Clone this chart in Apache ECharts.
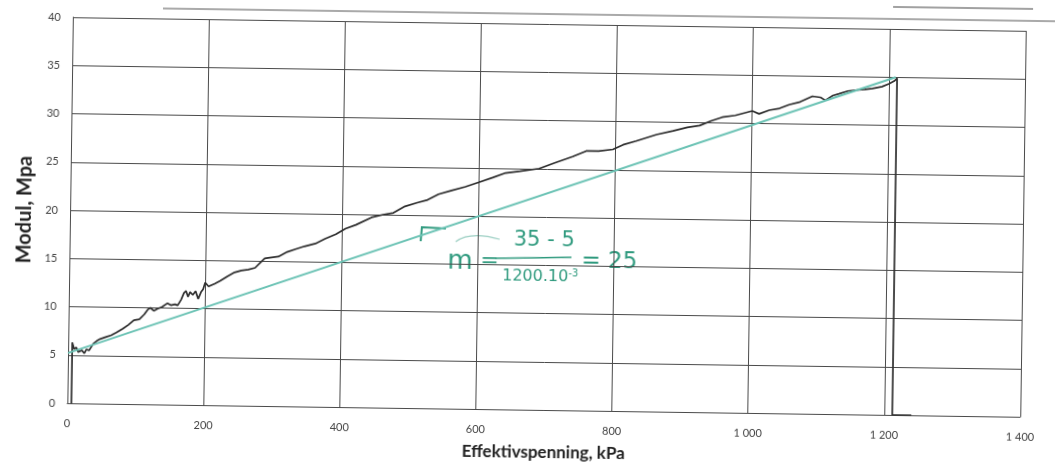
<!DOCTYPE html>
<html>
<head>
<meta charset="utf-8">
<script src="https://cdn.jsdelivr.net/npm/echarts@6/dist/echarts.min.js"></script>
<style>
  html, body { margin: 0; padding: 0; background: #fff; }
  #chart {
    width: 1055px;
    height: 466px;
    transform-origin: 547px 220px;
    transform: rotate(0.82deg);
  }
</style>
</head>
<body>
<div id="chart"></div>
<script>
// measured curve: effective stress (kPa) vs modulus (MPa)
const stressKpa = [6, 6, 9, 12, 15, 20, 24, 27, 31, 37, 42, 47, 55, 63, 71, 80, 88, 96, 104, 111,
  116, 120, 125, 130, 137, 145, 150, 156, 160, 165, 169, 172, 175, 178, 182, 186, 190, 194, 197, 200,
  205, 214, 222, 233, 243, 253, 263, 273, 280, 287, 297, 307, 320, 332, 345, 361, 375, 391, 405, 420,
  443, 460, 475, 492, 510, 525, 541, 560, 580, 600, 620, 639, 660, 688, 710, 737, 757, 775, 796, 811,
  830, 860, 884, 905, 923, 940, 956, 975, 1000, 1010, 1025, 1040, 1054, 1070, 1088, 1100, 1107, 1118, 1127, 1140,
  1151, 1165, 1176, 1190, 1200, 1208, 1212, 1212, 1240]
const modulMpa = [0, 6.3, 5.6, 5.8, 5.3, 5.5, 5.2, 5.6, 5.5, 6.2, 6.5, 6.7, 6.9, 7.1, 7.4, 7.8, 8.2, 8.7, 8.8, 9.3,
  9.8, 10.0, 9.7, 9.9, 10.1, 10.5, 10.3, 10.4, 10.3, 10.9, 11.6, 11.8, 11.2, 11.7, 11.4, 11.8, 11.0, 11.7, 12.0, 12.7,
  12.3, 12.6, 12.9, 13.4, 13.8, 14.0, 14.1, 14.3, 14.8, 15.3, 15.4, 15.5, 16.0, 16.3, 16.6, 16.9, 17.4, 17.9, 18.5, 18.9,
  19.7, 20.0, 20.2, 20.9, 21.3, 21.6, 22.2, 22.6, 23.0, 23.5, 24.0, 24.5, 24.7, 25.0, 25.6, 26.3, 26.9, 26.9, 27.1, 27.6,
  28.0, 28.7, 29.1, 29.5, 29.7, 30.2, 30.6, 30.8, 31.3, 31.0, 31.4, 31.6, 32.0, 32.3, 32.9, 32.8, 32.5, 33.0, 33.2, 33.5,
  33.6, 33.7, 33.8, 34.0, 34.3, 34.6, 34.9, 0, 0]

// hand-drawn fit line
const fitX = [0, 1210]
const fitY = [5.2, 35]

const xTicks = [0, 200, 400, 600, 800, 1000, 1200, 1400]

const chart = echarts.init(document.getElementById('chart'))

const fmtThousands = v => {
  const s = String(v)
  return s.length > 3 ? s.slice(0, -3) + ' ' + s.slice(-3) : s
}

const hand = '#2f9a7e'
const handFamily = '"DejaVu Sans"'

const option = {
  backgroundColor: '#fff',
  animation: false,
  grid: {
    left: 70,
    right: 32,
    top: 24,
    bottom: 49
  },
  xAxis: {
    type: 'value',
    min: 0,
    max: 1400,
    interval: 200,
    name: 'Effektivspenning, kPa',
    nameLocation: 'middle',
    nameGap: 34,
    nameTextStyle: { fontFamily: 'Lato', fontWeight: 'bold', fontSize: 17, color: '#222' },
    axisLine: { lineStyle: { color: '#4a4a4a', width: 1 } },
    axisTick: { show: false },
    axisLabel: {
      fontFamily: 'Lato', fontSize: 11, color: '#444', margin: 15,
      formatter: v => xTicks.includes(v) ? fmtThousands(v) : ''
    },
    splitLine: { lineStyle: { color: '#4a4a4a', width: 1 } }
  },
  yAxis: {
    type: 'value',
    min: 0,
    max: 40,
    interval: 5,
    name: 'Modul, Mpa',
    nameLocation: 'middle',
    nameRotate: 90,
    nameGap: 29,
    nameTextStyle: { fontFamily: 'Lato', fontWeight: 'bold', fontSize: 20, color: '#222' },
    axisLine: { show: true, lineStyle: { color: '#4a4a4a', width: 1 } },
    axisTick: { show: false },
    axisLabel: { fontFamily: 'Lato', fontSize: 11, color: '#444', margin: 12 },
    splitLine: { lineStyle: { color: '#4a4a4a', width: 1 } }
  },
  series: [
    {
      name: 'fit',
      type: 'line',
      symbol: 'none',
      data: fitX.map((x, i) => [x, fitY[i]]),
      lineStyle: { color: '#6cc3b5', width: 2 },
      z: 3
    },
    {
      name: 'modul',
      type: 'line',
      symbol: 'none',
      data: stressKpa.map((x, i) => [x, modulMpa[i]]),
      lineStyle: { color: '#2e2e2e', width: 1.7 },
      z: 2
    }
  ],
  graphic: [
    // scan edges at top
    { type: 'line', shape: { x1: 160, y1: 14, x2: 1060, y2: 14 }, style: { stroke: '#555', lineWidth: 1 } },
    { type: 'line', shape: { x1: 890, y1: 2, x2: 1030, y2: 2 }, style: { stroke: '#444', lineWidth: 1 } },
    // handwritten slope note
    { type: 'polyline', shape: { points: [[421, 243], [422, 229], [446, 230]] },
      style: { stroke: hand, lineWidth: 2, fill: null } },
    { type: 'bezierCurve', shape: { x1: 456, y1: 243, x2: 500, y2: 240, cpx1: 470, cpy1: 232 },
      style: { stroke: '#9ccfc3', lineWidth: 1.2, fill: null } },
    { type: 'text', x: 448, y: 250, style: { text: 'm', font: '400 26px ' + handFamily, fill: hand } },
    { type: 'text', x: 481, y: 251, style: { text: '=', font: '400 22px ' + handFamily, fill: hand } },
    { type: 'text', x: 514, y: 230, style: { text: '35 - 5', font: '400 21px ' + handFamily, fill: hand } },
    { type: 'line', shape: { x1: 496, y1: 259, x2: 572, y2: 257 }, style: { stroke: hand, lineWidth: 1.5 } },
    { type: 'text', x: 503, y: 268, style: {
      text: '1200.10{s|-3}', font: '400 16px ' + handFamily, fill: hand,
      rich: { s: { fontSize: 10, fontFamily: 'DejaVu Sans', fill: hand, verticalAlign: 'top', padding: [0, 0, 8, 0] } }
    } },
    { type: 'text', x: 582, y: 250, style: { text: '= 25', font: '400 23px ' + handFamily, fill: hand } }
  ]
}

chart.setOption(option)
</script>
</body>
</html>
